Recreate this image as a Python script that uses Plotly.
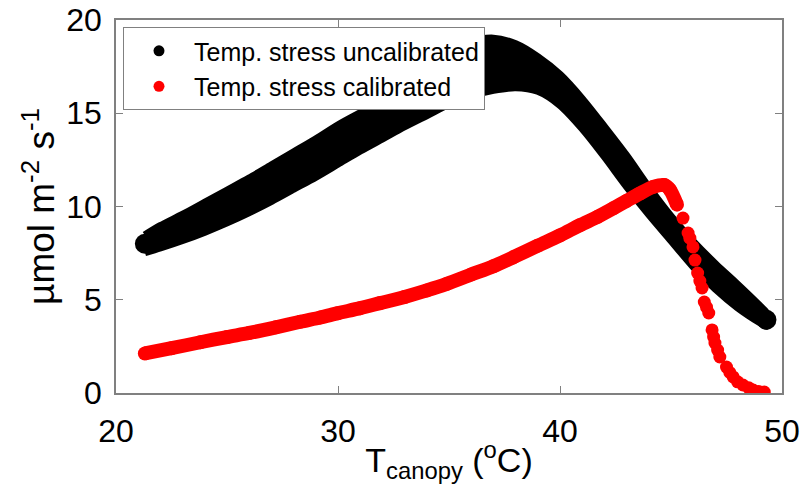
import plotly.graph_objects as go

# Canopy temperature (deg C) samples along the uncalibrated band edges
t_band = [21.3, 22, 23, 24, 25, 26, 27, 28, 29, 30, 31, 32, 33, 34, 35, 36, 37,
          38, 39, 40, 41, 42, 43, 44, 45, 46, 47, 48, 49, 49.3]
band_upper = [8.45, 8.95, 9.55, 10.2, 10.85, 11.5, 12.2, 12.9, 13.6, 14.35, 15.0,
              15.6, 16.3, 17.2, 18.1, 18.8, 19.0, 18.7, 18.0, 17.05, 15.75, 14.25,
              12.7, 11.0, 9.45, 8.1, 6.9, 5.8, 4.65, 4.25]
band_lower = [7.55, 7.8, 8.2, 8.65, 9.15, 9.7, 10.3, 10.95, 11.6, 12.3, 13.0,
              13.65, 14.3, 14.9, 15.5, 15.95, 16.25, 16.4, 16.2, 15.45, 14.2, 12.7,
              11.1, 9.6, 8.2, 6.8, 5.6, 4.6, 3.8, 3.6]

# Calibrated response: smooth rising part
t_cal = [21.3, 22.5, 23.8, 25.0, 26.0, 27.2, 28.3, 29.2, 30.0, 31.0, 31.9, 33.0,
         34.0, 34.9, 36.0, 37.0, 37.9, 39.0, 40.0, 40.9, 41.7, 42.4, 43.0, 43.6,
         44.2, 44.7, 44.95, 45.27]
v_cal = [2.12, 2.4, 2.72, 3.0, 3.22, 3.52, 3.82, 4.05, 4.28, 4.55, 4.82, 5.15,
         5.5, 5.85, 6.35, 6.8, 7.28, 7.9, 8.45, 9.0, 9.45, 9.9, 10.3, 10.7,
         11.05, 11.15, 10.9, 10.1]

# Calibrated response: sparse points on the steep decline
t_drop = [45.54, 45.77, 45.85, 45.99, 46.08, 46.2, 46.3, 46.4, 46.5, 46.6, 46.7,
          46.85, 46.92, 46.98, 47.1, 47.2, 47.5, 47.65, 47.8, 48.0, 48.24, 48.5,
          48.7, 48.95, 49.2]
v_drop = [9.38, 8.58, 8.3, 7.83, 7.13, 6.43, 6.0, 5.63, 4.88, 4.6, 4.29, 3.38,
          3.0, 2.68, 2.3, 1.93, 1.39, 1.1, 0.86, 0.6, 0.43, 0.28, 0.16, 0.08, 0.05]

x_ticks = [20, 30, 40, 50]
y_ticks = [0, 5, 10, 15, 20]
series_names = ["Temp. stress uncalibrated", "Temp. stress calibrated"]

FONT = "Liberation Sans, Arial, Helvetica, sans-serif"
AXIS_GREY = "#808080"
RED = "#ff0000"

fig = go.Figure()

# Uncalibrated band as a filled outline (upper edge forward, lower edge back)
fig.add_trace(go.Scatter(
    x=t_band + t_band[::-1],
    y=band_upper + band_lower[::-1],
    mode="lines",
    fill="toself",
    fillcolor="black",
    line=dict(color="black", width=8, shape="spline", smoothing=0.8),
    hoverinfo="skip",
    showlegend=False,
))
# rounded ends of the band
end_t = [t_band[0], t_band[-1]]
end_v = [(band_upper[0] + band_lower[0]) / 2, (band_upper[-1] + band_lower[-1]) / 2]
fig.add_trace(go.Scatter(
    x=end_t, y=end_v, mode="markers",
    marker=dict(color="black", size=20),
    hoverinfo="skip", showlegend=False,
))

# Calibrated curve
fig.add_trace(go.Scatter(
    x=t_cal, y=v_cal,
    mode="lines+markers",
    line=dict(color=RED, width=14, shape="spline", smoothing=0.8),
    marker=dict(color=RED, size=14),
    showlegend=False,
))
fig.add_trace(go.Scatter(
    x=t_drop, y=v_drop,
    mode="markers",
    marker=dict(color=RED, size=13),
    showlegend=False,
))

# Legend entries
for name, col in zip(series_names, ["black", RED]):
    fig.add_trace(go.Scatter(
        x=[None], y=[None], mode="markers", name=name,
        marker=dict(color=col, size=11),
    ))

axis_common = dict(
    showline=True, linecolor=AXIS_GREY, linewidth=1.5, mirror="ticks",
    ticks="inside", ticklen=7, tickwidth=1, tickcolor=AXIS_GREY,
    showgrid=False, zeroline=False, automargin=False,
    tickfont=dict(family=FONT, size=32, color="black"),
)

fig.update_layout(
    width=806, height=493,
    margin=dict(l=116, r=24, t=20, b=100),
    paper_bgcolor="white", plot_bgcolor="white",
    font=dict(family=FONT, color="black"),
    xaxis=dict(
        range=[20, 50], tickvals=x_ticks, ticklabelstandoff=9,
        title=dict(text="T<sub>canopy</sub> (<sup>o</sup>C)",
                   font=dict(family=FONT, size=34), standoff=0),
        **axis_common,
    ),
    yaxis=dict(
        range=[0, 20], tickvals=y_ticks, ticklabelstandoff=6,
        title=dict(text="µmol m<sup>-2</sup> s<sup>-1</sup>",
                   font=dict(family=FONT, size=37), standoff=0),
        **axis_common,
    ),
    legend=dict(
        x=0.0105, y=0.981, xanchor="left", yanchor="top",
        bgcolor="white", bordercolor=AXIS_GREY, borderwidth=1,
        font=dict(family=FONT, size=25, color="black"),
        itemwidth=60, tracegroupgap=0,
    ),
    showlegend=True,
)

fig.write_html("out.html")
